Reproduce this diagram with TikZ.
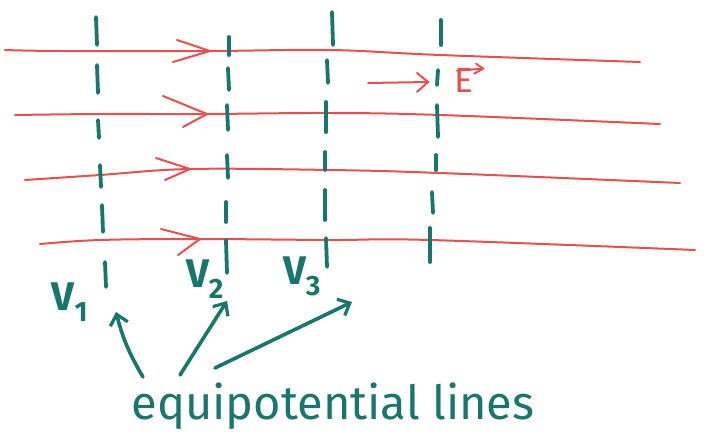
\documentclass[tikz,border=0pt]{standalone}
\usepackage{fontspec}
\setmainfont{Fira Sans}
\usetikzlibrary{arrows.meta}
\definecolor{fieldred}{RGB}{232,80,80}
\definecolor{eqteal}{RGB}{25,118,108}
\tikzset{
  field/.style={fieldred, line width=2pt, line cap=round, line join=round},
  chev/.style={fieldred, line width=2pt, line cap=round, line join=round},
  dashseg/.style={eqteal, line width=3.8pt, line cap=round},
  pointer/.style={eqteal, line width=3.6pt, line cap=round, -{Straight Barb[length=10pt,width=18pt,line width=3.2pt]}},
  vlabel/.style={eqteal, font=\fontsize{40}{42}\selectfont\bfseries, inner sep=0pt},
}
\begin{document}
\begin{tikzpicture}[x=1pt,y=-1pt]
\useasboundingbox (0,0) rectangle (710,447);
\fill[white] (0,0) rectangle (710,447);
% field lines
\draw[field] plot[smooth, tension=0.6] coordinates {(5,50) (60,51) (210,51) (330,50) (440,55) (640,62)};
\draw[field] plot[smooth, tension=0.6] coordinates {(15,115) (100,114) (207,114) (330,113) (440,115) (660,124)};
\draw[field] plot[smooth, tension=0.6] coordinates {(25,180) (100,175) (190,169) (330,170) (440,173) (680,183)};
\draw[field] plot[smooth, tension=0.6] coordinates {(40,244) (100,240) (200,239) (330,240) (430,240) (695,250)};
\draw[chev] (177,40) -- (210,51) -- (173,62);
\draw[chev] (163,96) -- (207,114) -- (183,127);
\draw[chev] (156,158) -- (190,169) -- (165,180);
\draw[chev] (161,229) -- (200,239) -- (178,255);
% E arrow
\draw[chev] (368,83) -- (428,82);
\draw[chev] (417,73) -- (428,82) -- (417,92);
\node[fieldred, font=\fontsize{35}{37}\selectfont, inner sep=0pt, anchor=base west] (E) at (454,92) {E};
\draw[chev] ([xshift=3pt,yshift=-3pt]E.north west) -- ([xshift=10pt,yshift=-1pt]E.north east)
  coordinate (Etip);
\draw[chev] ([xshift=-9pt,yshift=-5pt]Etip) -- (Etip) -- ([xshift=-7pt,yshift=5pt]Etip);
% equipotential lines (dashed)
\foreach \a/\b/\c/\d in {96/17/97/45, 97/65/98/93, 98/120/99/138, 100/165/101/187, 102/205/103/232, 105/262/106/287,
  229/37/229/55, 228/68/229/90, 227/105/228/130, 227/155/228/178, 226/202/226/222, 226/240/227/273,
  332/12/333/45, 327/60/328/83, 326/102/326/132, 325/152/325/170, 325/190/325/220, 326/238/327/267,
  441/20/441/45, 438/70/437/85, 437/105/438/137, 436/155/436/170, 432/192/433/213, 430/228/430/262}
  \draw[dashseg] (\a,\b) -- (\c,\d);
% labels
\node[vlabel] (V1) at (70,302) {V\textsubscript{1}};
\node[vlabel] (V2) at (205,279) {V\textsubscript{2}};
\node[vlabel] (V3) at (302,276) {V\textsubscript{3}};
\node[eqteal, font=\fontsize{47}{49}\selectfont, inner sep=0pt] (eq) at (333,406) {equipotential lines};
% pointers
\coordinate (p1s) at (143,377); \coordinate (p1e) at (116,312);
\coordinate (p2s) at (180,375); \coordinate (p2e) at (227,301);
\coordinate (p3s) at (215,368); \coordinate (p3e) at (352,302);
\draw[pointer] (p1s) to[bend left=8] (p1e);
\draw[pointer] (p2s) -- (p2e);
\draw[pointer] (p3s) -- (p3e);
\end{tikzpicture}
\end{document}
